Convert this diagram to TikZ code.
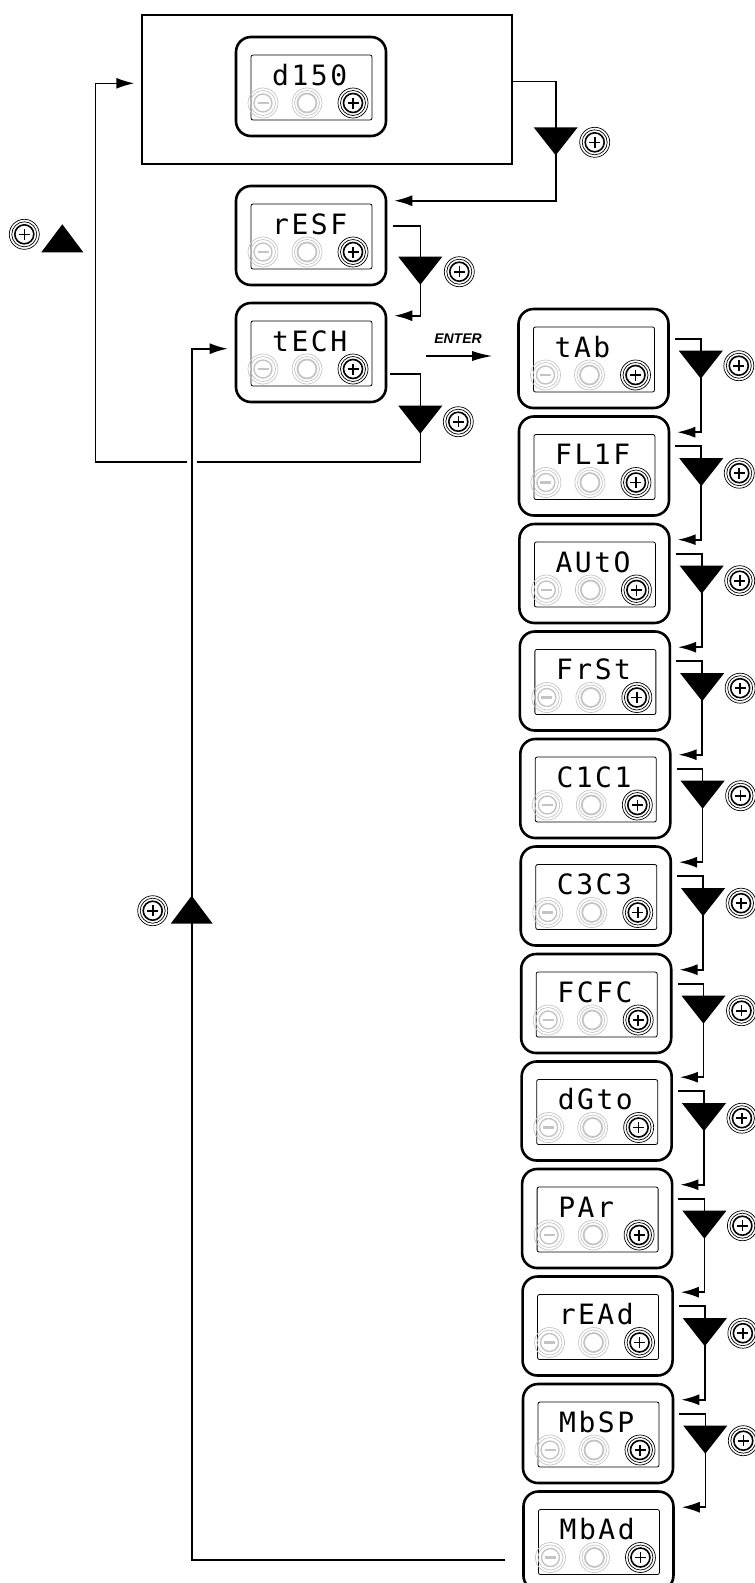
\documentclass[tikz,border=0pt]{standalone}
\usepackage{fontspec}
\setmainfont{Liberation Sans}
\newfontfamily\lcdfont{DejaVu Sans Mono}[LetterSpace=9]
\usetikzlibrary{arrows.meta,calc}

\definecolor{btngrey}{RGB}{196,196,196}

\tikzset{
  wire/.style={line width=1.6pt},
  feed/.style={wire,-{Latex[length=18pt,width=11pt]}},
  lcdframe/.style={draw,line width=2.6pt,rounded corners=15pt,minimum width=150,minimum height=99,inner sep=0pt},
  lcdscreen/.style={draw,line width=0.8pt,rounded corners=2pt},
  lcdtext/.style={font=\lcdfont\fontsize{28}{29}\selectfont,inner sep=0pt,anchor=base west},
  downtri/.pic={\fill (-22,0) -- (22,0) -- (0,28) -- cycle;},
  uptri/.pic={\fill (-21,0) -- (21,0) -- (0,-28) -- cycle;},
  plusbtn/.pic={
    \draw[line width=0.7pt] (0,0) circle[radius=15] (0,0) circle[radius=12.5];
    \draw[line width=1.6pt] (0,0) circle[radius=9.5];
    \draw[line width=1.6pt] (-5.5,0) -- (5.5,0) (0,-5.5) -- (0,5.5);
  },
  greyminus/.pic={
    \draw[btngrey,line width=0.7pt] (0,0) circle[radius=15] (0,0) circle[radius=12.5];
    \draw[btngrey,line width=1.4pt] (0,0) circle[radius=9];
    \draw[btngrey,line width=2.6pt] (-5.5,0) -- (5.5,0);
  },
  greyblank/.pic={
    \draw[btngrey,line width=0.7pt] (0,0) circle[radius=15] (0,0) circle[radius=12.5];
    \draw[btngrey,line width=1.8pt] (0,0) circle[radius=9.5];
  }
}

% one display: name, left x, top y, text
\newcommand{\lcd}[4]{%
  \node[lcdframe] (#1) at (#2+75,#3+49.5) {};
  \draw[lcdscreen] (#2+15,#3+18) rectangle (#2+136,#3+83);
  \node[lcdtext] (#1-txt) at (#2+36,#3+48) {#4};
  \pic at (#2+27,#3+66) {greyminus};
  \pic at (#2+71,#3+66) {greyblank};
  \pic at (#2+117,#3+66) {plusbtn};
}

\begin{document}
\begin{tikzpicture}[x=1pt,y=-1pt]
\clip (0,0) rectangle (755,1583);
% main menu
\node[draw,line width=1.4pt,minimum width=370,minimum height=149,inner sep=0pt] (root) at (327,89.5) {};
\lcd{diso}{236}{37}{d150}
\lcd{resf}{236}{186}{rESF}
\lcd{tech}{236}{303}{tECH}

% root -> resf
\coordinate (root-o) at ($(root.north east)+(0,67)$);
\coordinate (root-c) at ($(root-o)+(43,0)$);
\coordinate (resf-i) at ($(resf.north east)+(7,16)$);
\draw[feed] (root-o) -- (root-c) |- (resf-i);
\pic at ($(root-c)+(0,46)$) {downtri};
\pic at ($(root-c)+(39,61)$) {plusbtn};

% resf -> tech
\coordinate (resf-o) at ($(resf.north east)+(6,41)$);
\coordinate (resf-c) at ($(resf-o)+(27,0)$);
\coordinate (tech-i) at ($(tech.north east)+(7,14)$);
\draw[feed] (resf-o) -- (resf-c) |- (tech-i);
\pic at ($(resf-c)+(0,31)$) {downtri};
\pic at ($(resf-c)+(39,46)$) {plusbtn};

% tech -> back to root
\coordinate (tech-in) at ($(tech.north west)+(-7,47)$);
\coordinate (ret-t) at ($(tech-in)+(-36,0)$);
\coordinate (tech-o) at ($(tech.north east)+(3,72)$);
\coordinate (tech-c) at ($(tech-o)+(30,0)$);
\coordinate (back-b) at ($(tech-c)+(0,88)$);
\coordinate (root-i) at ($(root.north west)+(-7,69)$);
\coordinate (back-t) at ($(root-i)+(-39,0)$);
\draw[wire] (tech-o) -- (tech-c) -- (back-b) -- ($(ret-t |- back-b)+(5,0)$);
\draw[feed] ($(ret-t |- back-b)+(-5,0)$) -- (back-b -| back-t) -- (back-t) -- (root-i);
\pic at ($(tech-c)+(0,32)$) {downtri};
\pic at ($(tech-c)+(38,48)$) {plusbtn};
\pic at ($(back-t)+(-33,169)$) {uptri};
\pic at ($(back-t)+(-71,151)$) {plusbtn};

% enter into submenu
\node[font=\bfseries\itshape\fontsize{14}{14}\selectfont,inner sep=0pt] (enter) at (458,339) {ENTER};

% submenu column
\foreach \nm/\txt [count=\k from 0] in {tab/tAb, flif/FL1F, auto/AUtO, frst/FrSt, cici/C1C1, cccc/C3C3, fcfc/FCFC, dgto/dGto, par/PAr, read/rEAd, mbsp/MbSP, mbad/MbAd}{
  \pgfmathsetmacro\lx{518.5+0.45*\k}
  \pgfmathsetmacro\ty{309+107.5*\k}
  \lcd{\nm}{\lx}{\ty}{\txt}
}
\draw[line width=1.3pt,-{Latex[length=20pt,width=10pt]}] ($(tech.east)+(39,3.5)$) -- ($(tab.west)+(-25,-2.5)$);

\foreach \a/\b in {tab/flif, flif/auto, auto/frst, frst/cici, cici/cccc, cccc/fcfc, fcfc/dgto, dgto/par, par/read, read/mbsp, mbsp/mbad}{
  \coordinate (\a-o) at ($(\a.north east)+(5,31)$);
  \coordinate (\a-c) at ($(\a-o)+(26,0)$);
  \coordinate (\b-i) at ($(\b.north east)+(7,17)$);
  \draw[feed] (\a-o) -- (\a-c) |- (\b-i);
  \pic at ($(\a-c)+(0,12)$) {downtri};
  \pic at ($(\a-c)+(38,27)$) {plusbtn};
}

% last entry returns to tech
\coordinate (mbad-o) at ($(mbad.north west)+(-17,70)$);
\draw[feed] (mbad-o) -| (ret-t) -- (tech-in);
\pic at ($(ret-t)+(0,575)$) {uptri};
\pic at ($(ret-t)+(-39,562)$) {plusbtn};
\end{tikzpicture}
\end{document}
